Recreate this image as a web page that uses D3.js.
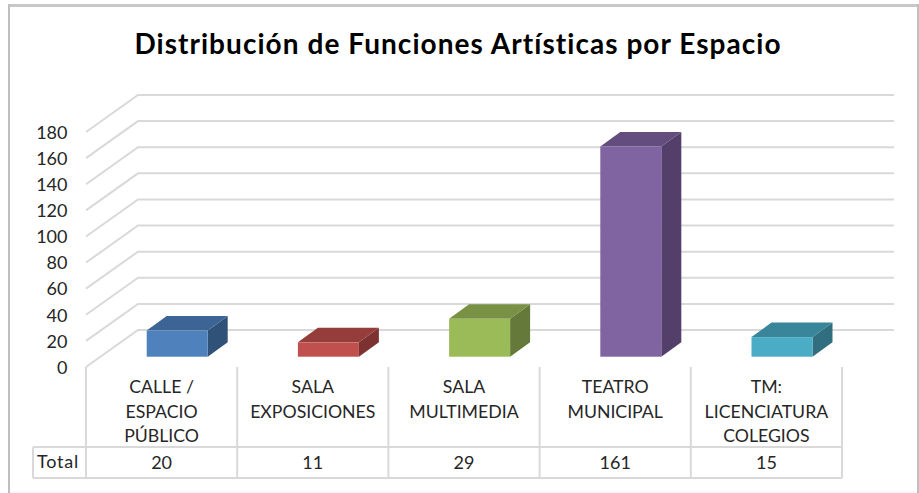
<!DOCTYPE html>
<html>
<head>
<meta charset="utf-8">
<script src="https://cdnjs.cloudflare.com/ajax/libs/d3/7.8.5/d3.min.js"></script>
<style>
html, body { margin: 0; padding: 0; background: #fff; }
svg { display: block; }
text { font-family: Lato, "Open Sans", sans-serif; fill: #262626; }
</style>
</head>
<body>
<svg id="chart"></svg>
<script>
var title = 'Distribución de Funciones Artísticas por Espacio';
var categories = ['CALLE / ESPACIO PÚBLICO', 'SALA EXPOSICIONES', 'SALA MULTIMEDIA', 'TEATRO MUNICIPAL', 'TM: LICENCIATURA COLEGIOS'];
var categoryLines = [['CALLE /', 'ESPACIO', 'PÚBLICO'], ['SALA', 'EXPOSICIONES'], ['SALA', 'MULTIMEDIA'], ['TEATRO', 'MUNICIPAL'], ['TM:', 'LICENCIATURA', 'COLEGIOS']];
var totals = [20, 11, 29, 161, 15];
var yTicks = [0, 20, 40, 60, 80, 100, 120, 140, 160, 180];
var frontColors = ['#4f81bd', '#c0504d', '#9bbb59', '#8064a2', '#4bacc6'];
var topColors = ['#3c6494', '#953d3a', '#789144', '#634d7e', '#39859a'];
var sideColors = ['#315278', '#7b3230', '#64793a', '#533f69', '#316f80'];

var width = 919, height = 493;
var svg = d3.select('#chart').attr('width', width).attr('height', height);

var grid = '#d9d9d9';
var wallDx = 52, wallDy = -37;          // floor depth of the 3d box
var barInsetX = 15.6, barInsetY = -10.3; // where the bars stand on the floor
var barDx = 20, barDy = -14.5, barWidth = 61;
var tableTop = 447, tableBottom = 478, totalLeft = 33;

var x = d3.scaleBand().domain(categories).range([86, 842]);
var y = d3.scaleLinear().domain([0, 180]).range([367, 132]);

// outer frame, the bottom edge is almost gone in the screenshot
svg.append('line').attr('x1', 9).attr('x2', 919).attr('y1', 5.5).attr('y2', 5.5)
    .attr('stroke', '#c8c8c8').attr('stroke-width', 3);
svg.append('line').attr('x1', 9).attr('x2', 9).attr('y1', 4).attr('y2', 493)
    .attr('stroke', '#bfbfbf').attr('stroke-width', 2);
svg.append('line').attr('x1', 918).attr('x2', 918).attr('y1', 4).attr('y2', 493)
    .attr('stroke', '#bfbfbf').attr('stroke-width', 2);
svg.append('line').attr('x1', 10).attr('x2', 917).attr('y1', 492).attr('y2', 492)
    .attr('stroke', '#efefef').attr('stroke-width', 1);

svg.append('text').attr('x', 458).attr('y', 54).attr('text-anchor', 'middle')
    .style('font-size', '28px').style('font-weight', 700).style('letter-spacing', '1.05px')
    .style('fill', '#000').text(title);

// walls
var walls = svg.append('g').attr('fill', 'none').attr('stroke', grid).attr('stroke-width', 2);
walls.selectAll('path').data(yTicks).enter().append('path')
    .attr('d', function(d) {
        return d3.line()([[x.range()[0], y(d)], [x.range()[0] + wallDx, y(d) + wallDy], [894, y(d) + wallDy]]);
    });

// value axis
var yAxis = svg.append('g').attr('transform', 'translate(67.5,0)')
    .call(d3.axisLeft(y).tickValues(yTicks).tickSize(0).tickPadding(0));
yAxis.select('.domain').remove();
yAxis.selectAll('text').style('font-size', '18px').attr('dy', '0.35em');

// bars
var bars = svg.selectAll('g.bar').data(categories).enter().append('g').attr('class', 'bar');
var barLeft = function(d) { return x(d) + x.bandwidth() / 2 - barWidth / 2 + barInsetX; };
var barPath = function(pts) { return d3.line()(pts) + 'Z'; };

bars.append('path').attr('fill', function(d, i) { return sideColors[i]; })
    .attr('d', function(d, i) {
        var r = barLeft(d) + barWidth, t = y(totals[i]) + barInsetY, b = y(0) + barInsetY;
        return barPath([[r, t], [r + barDx, t + barDy], [r + barDx, b + barDy], [r, b]]);
    });
bars.append('path').attr('fill', function(d, i) { return topColors[i]; })
    .attr('d', function(d, i) {
        var l = barLeft(d), t = y(totals[i]) + barInsetY;
        return barPath([[l, t], [l + barDx, t + barDy], [l + barWidth + barDx, t + barDy], [l + barWidth, t]]);
    });
bars.append('rect').attr('fill', function(d, i) { return frontColors[i]; })
    .attr('x', barLeft)
    .attr('y', function(d, i) { return y(totals[i]) + barInsetY; })
    .attr('width', barWidth)
    .attr('height', function(d, i) { return y(0) - y(totals[i]); });

// data table
var table = svg.append('g').attr('stroke', grid).attr('stroke-width', 2);
var edges = categories.map(function(d) { return x(d); }).concat(x.range()[1]);
table.selectAll('line.v').data(edges).enter().append('line').attr('class', 'v')
    .attr('x1', function(d) { return d; }).attr('x2', function(d) { return d; })
    .attr('y1', y(0)).attr('y2', tableBottom);
table.selectAll('line.h').data([tableTop, tableBottom]).enter().append('line').attr('class', 'h')
    .attr('x1', totalLeft).attr('x2', x.range()[1])
    .attr('y1', function(d) { return d; }).attr('y2', function(d) { return d; });
table.append('line').attr('x1', totalLeft).attr('x2', totalLeft).attr('y1', tableTop).attr('y2', tableBottom);

svg.append('text').attr('x', 58).attr('y', 468).attr('text-anchor', 'middle')
    .style('font-size', '18px').style('letter-spacing', '0.8px').text('Total');

svg.selectAll('text.total').data(totals).enter().append('text').attr('class', 'total')
    .attr('x', function(d, i) { return x(categories[i]) + x.bandwidth() / 2; })
    .attr('y', 469).attr('text-anchor', 'middle').style('font-size', '18px')
    .text(function(d) { return d; });

var labels = svg.selectAll('text.cat').data(categoryLines).enter().append('text').attr('class', 'cat')
    .attr('text-anchor', 'middle').style('font-size', '17.7px');
labels.selectAll('tspan').data(function(d, i) {
    return d.map(function(s) { return { s: s, c: categories[i] }; });
}).enter().append('tspan')
    .attr('x', function(d) { return x(d.c) + x.bandwidth() / 2; })
    .attr('y', function(d, i) { return 393 + i * 24.5; })
    .text(function(d) { return d.s; });
</script>
</body>
</html>
